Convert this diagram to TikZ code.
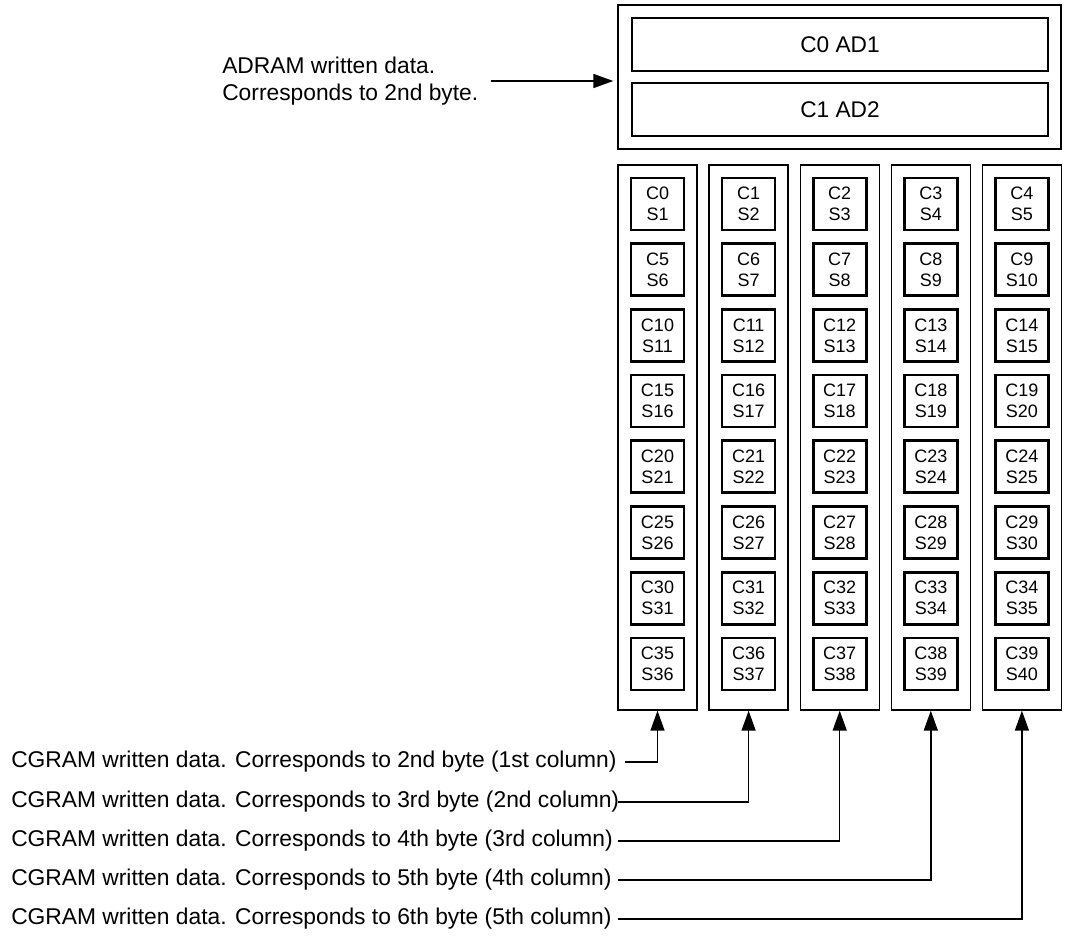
\documentclass[tikz,border=0pt]{standalone}
\usepackage{fontspec}
\setmainfont{Liberation Sans}
\usetikzlibrary{arrows.meta}
\begin{document}
\begin{tikzpicture}[x=0.75pt,y=-0.75pt,
  colbox/.style={draw, line width=1pt, inner sep=0pt, minimum width=59.25pt, minimum height=408.75pt},
  cell/.style={draw, line width=2pt, inner sep=0pt, minimum width=39.75pt, minimum height=39pt, align=center, font=\fontsize{13.5}{15.75}\selectfont},
  topframe/.style={draw, line width=1pt, inner sep=0pt, minimum width=332.25pt, minimum height=108pt},
  adbox/.style={draw, line width=2pt, inner sep=0pt, minimum width=312pt, minimum height=39.75pt, font=\fontsize{17}{20}\selectfont},
  lbl/.style={anchor=west, inner sep=0pt, font=\fontsize{17.1}{20.25}\selectfont},
  conn/.style={line width=1.1pt, -{Triangle[length=15pt,width=10.5pt]}}]
\fill[white] (0,0) rectangle (1066,935);
\useasboundingbox (0,0) rectangle (1066,935);
% top ADRAM box
\node[topframe] (topbox) at (839.5,77) {};
\node[adbox] (ad1) at (840,44.5) {C0 AD1};
\node[adbox] (ad2) at (840,109.5) {C1 AD2};
% columns and cells
\foreach \k in {1,...,5} {
  \node[colbox] (col\k) at ({657.5+91.1*(\k-1)},437.5) {};
  \foreach \r in {0,...,7} {
    \pgfmathtruncatemacro\cn{5*\r+\k-1}
    \pgfmathtruncatemacro\sn{\cn+1}
    \node[cell] (c\cn) at ({657.5+91.1*(\k-1)},{204+65.7*\r}) {C\cn\\S\sn};
  }
}
% ADRAM label
\node[lbl, align=left] (adram) at (222,81) {ADRAM written data.\\Corresponds to 2nd byte.};
\coordinate (as) at (491,81);
\draw[conn, shorten >=3pt] (adram.east -| as) -- (adram.east -| topbox.west);
% CGRAM labels
\node[lbl] (l1) at (11,762) {CGRAM written data. Corresponds to 2nd byte (1st column)};
\node[lbl] (l2) at (11,802) {CGRAM written data. Corresponds to 3rd byte (2nd column)};
\node[lbl] (l3) at (11,841) {CGRAM written data. Corresponds to 4th byte (3rd column)};
\node[lbl] (l4) at (11,880) {CGRAM written data. Corresponds to 5th byte (4th column)};
\node[lbl] (l5) at (11,919) {CGRAM written data. Corresponds to 6th byte (5th column)};
\coordinate (s1) at (625,762);
\coordinate (s2) at (618,802);
\draw[conn] (l1.east -| s1) -| (col1.south);
\draw[conn] (l2.east -| s2) -| (col2.south);
\draw[conn] (l3.east -| s2) -| (col3.south);
\draw[conn] (l4.east -| s2) -| (col4.south);
\draw[conn] (l5.east -| s2) -| (col5.south);
\end{tikzpicture}
\end{document}
